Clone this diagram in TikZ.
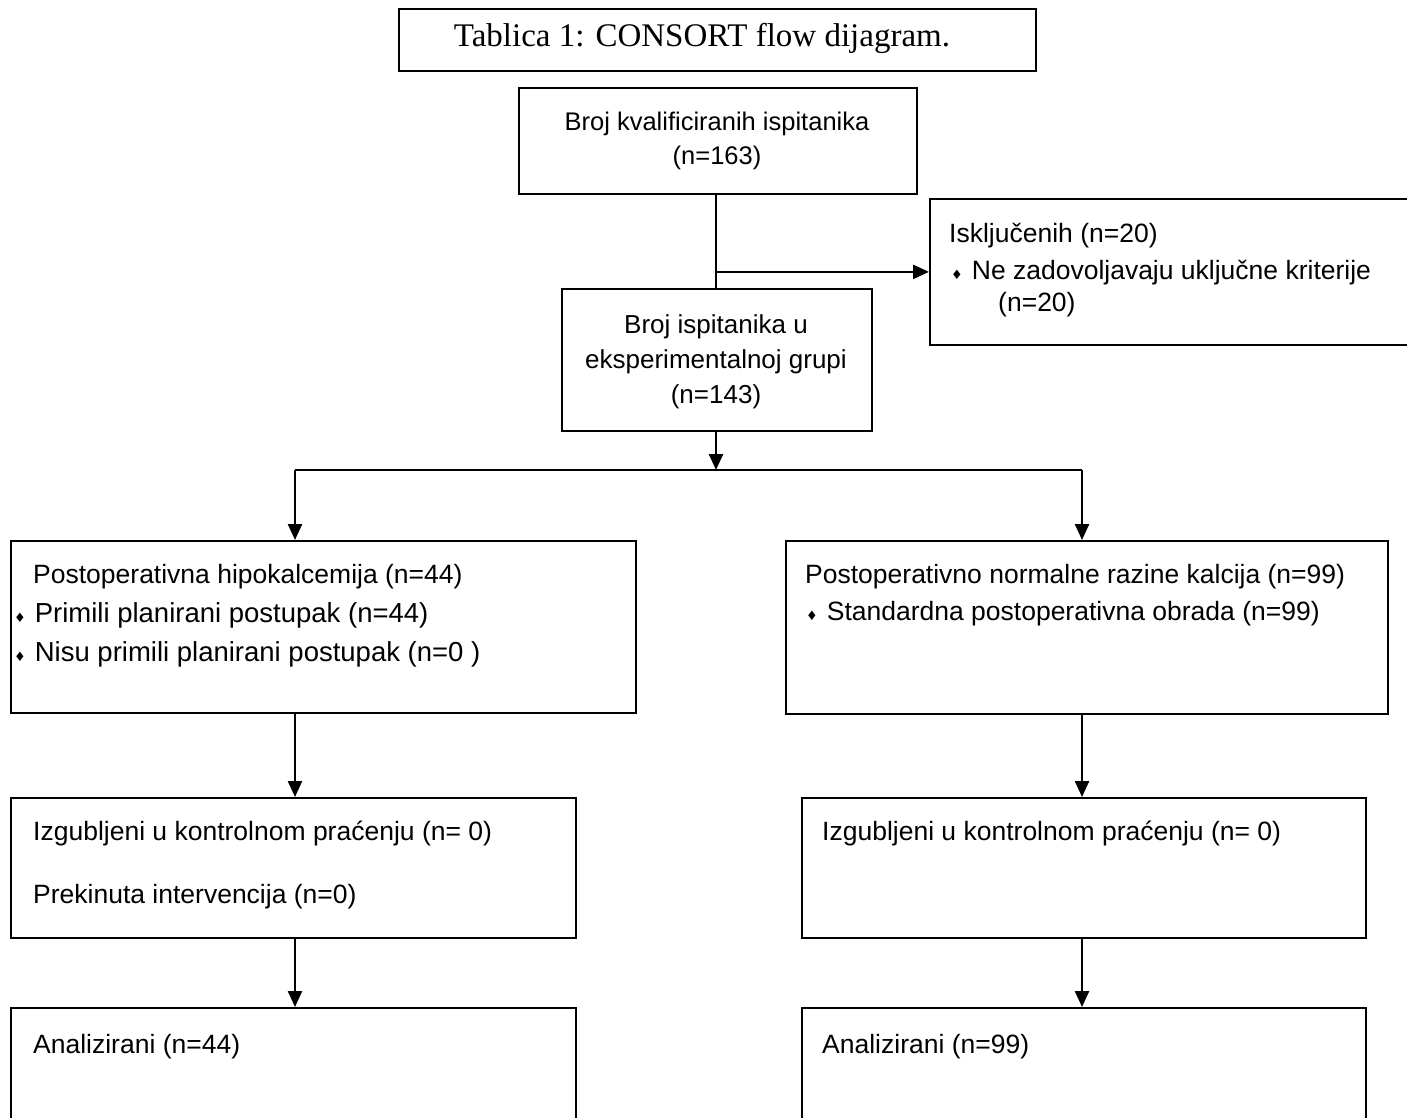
\documentclass[tikz,border=0pt]{standalone}
\usepackage{fontspec}
\setmainfont{Liberation Sans}
\newfontfamily\titlefont{Liberation Serif}
\newfontfamily\symfont{DejaVu Sans}
\usetikzlibrary{arrows.meta}
\newcommand{\bul}{{\symfont\fontsize{13}{13}\selectfont ♦}\hspace{9pt}}

\begin{document}
\begin{tikzpicture}[x=1pt,y=-1pt,>={Triangle[length=16pt,width=14pt]},
  box/.style={draw,line width=1.8pt,rectangle,inner sep=0pt,anchor=north west},
  txt/.style={inner sep=0pt,anchor=west,font=\fontsize{26.5}{33}\selectfont}]

  \tikzstyle{flow} = [draw,line width=2.4pt]

  \useasboundingbox (0,0) rectangle (1407,1117);

  % boxes
  \node[box,minimum width=637pt,minimum height=62pt] (title) at (398,8) {};
  \node[box,minimum width=398pt,minimum height=106pt] (elig) at (518,87) {};
  \node[box,minimum width=490pt,minimum height=146pt] (excl) at (929,198) {};
  \node[box,minimum width=310pt,minimum height=142pt] (alloc) at (561,288) {};
  \node[box,minimum width=625pt,minimum height=172pt] (hypo) at (10,540) {};
  \node[box,minimum width=602pt,minimum height=173pt] (norm) at (785,540) {};
  \node[box,minimum width=565pt,minimum height=140pt] (lostL) at (10,797) {};
  \node[box,minimum width=564pt,minimum height=140pt] (lostR) at (801,797) {};
  \node[box,minimum width=565pt,minimum height=140pt] (anaL) at (10,1007) {};
  \node[box,minimum width=564pt,minimum height=140pt] (anaR) at (801,1007) {};

  % texts
  \node[inner sep=0pt,font=\titlefont\fontsize{33}{38}\selectfont] (titletext) at (702,38) {Tablica 1: CONSORT flow dijagram.};
  \node[txt,anchor=center,align=center,font=\fontsize{25.5}{34}\selectfont] (eligtext) at (717,141) {Broj kvalificiranih ispitanika\\(n=163)};
  \node[txt,anchor=center,align=center,font=\fontsize{26}{35}\selectfont] (alloctext) at (716,362) {Broj ispitanika u\\eksperimentalnoj grupi\\(n=143)};
  \node[txt] (excla) at (949,236) {Isključenih (n=20)};
  \node[txt] (exclb) at (951,273) {\bul Ne zadovoljavaju uključne kriterije};
  \node[txt] (exclc) at (998,305) {(n=20)};
  \node[txt] (hypoa) at (33,577) {Postoperativna hipokalcemija (n=44)};
  \node[txt,font=\fontsize{27.5}{33}\selectfont] (hypob) at (14,615) {\bul Primili planirani postupak (n=44)};
  \node[txt,font=\fontsize{27.5}{33}\selectfont] (hypoc) at (14,654) {\bul Nisu primili planirani postupak (n=0 )};
  \node[txt] (norma) at (805,577) {Postoperativno normalne razine kalcija (n=99)};
  \node[txt] (normb) at (806,614) {\bul Standardna postoperativna obrada (n=99)};
  \node[txt] (lostLa) at (33,833) {Izgubljeni u kontrolnom praćenju (n= 0)};
  \node[txt] (lostLb) at (33,897) {Prekinuta intervencija (n=0)};
  \node[txt] (lostRa) at (822,833) {Izgubljeni u kontrolnom praćenju (n= 0)};
  \node[txt] (anaLa) at (33,1047) {Analizirani (n=44)};
  \node[txt] (anaRa) at (822,1047) {Analizirani (n=99)};

  % connectors
  \coordinate (split) at (716,470);
  \coordinate (lcol) at (295,470);
  \coordinate (rcol) at (1082,470);

  \path[flow]
    (elig.south -| split) edge (split |- alloc.north)
    (split |- excl.west) edge [->] (excl.west)
    (split |- alloc.south) edge [->] (split)
    (lcol) edge (rcol)
    (lcol) edge [->] (lcol |- hypo.north)
    (rcol) edge [->] (rcol |- norm.north)
    (lcol |- hypo.south) edge [->] (lcol |- lostL.north)
    (rcol |- norm.south) edge [->] (rcol |- lostR.north)
    (lcol |- lostL.south) edge [->] (lcol |- anaL.north)
    (rcol |- lostR.south) edge [->] (rcol |- anaR.north);
\end{tikzpicture}
\end{document}
